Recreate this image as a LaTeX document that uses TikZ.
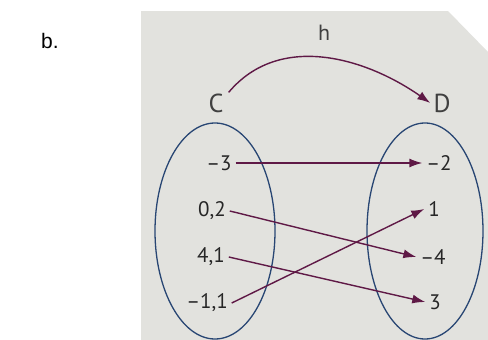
\documentclass[tikz,border=0pt]{standalone}
\usepackage{fontspec}
\setmainfont{Liberation Sans}
\newfontfamily\panelfont{PT Sans}
\usetikzlibrary{arrows.meta}
\definecolor{panelgray}{RGB}{226,226,222}
\definecolor{setblue}{RGB}{40,70,115}
\definecolor{maparrow}{RGB}{95,25,70}
\tikzset{
  elem/.style={inner sep=1pt,outer sep=3pt,font=\panelfont\fontsize{21}{21}\selectfont,text=black!85},
  setname/.style={inner sep=1pt,font=\panelfont\fontsize{26}{26}\selectfont,text=black!75},
  setoval/.style={draw=setblue,line width=1.3pt},
  maps/.style={draw=maparrow,line width=1.4pt,-{Latex[length=13pt,width=9pt]}}
}
\begin{document}
\begin{tikzpicture}[x=1pt,y=-1pt]
        \useasboundingbox (0,0) rectangle (488,340);
        \fill[white] (0,0) rectangle (488,340);
        \fill[panelgray] (141,11) -- (448,11) -- (488,52) -- (488,340) -- (141,340) -- cycle;
        \node[font=\fontsize{21}{21}\selectfont] (part) at (50,41) {b.};
        \draw[setoval] (215,231) ellipse (60 and 108);
        \draw[setoval] (425,231) ellipse (58 and 108);
        \node[setname] (C) at (216,103) {C};
        \node[setname] (D) at (442,103) {D};
        \node[elem] (c1) at (219,163) {–3};
        \node[elem] (c2) at (212,211) {0,2};
        \node[elem] (c3) at (211,257) {4,1};
        \node[elem] (c4) at (207,303) {–1,1};
        \node[elem] (d1) at (439,163) {–2};
        \node[elem] (d2) at (434,209) {1};
        \node[elem] (d3) at (433,257) {–4};
        \node[elem] (d4) at (435,302) {3};
        \draw[maps] ([xshift=4pt]C.north east) to[out=50,in=145] node[above=16pt,setname,font=\panelfont\fontsize{22}{22}\selectfont] (h) {h} ([xshift=-2pt]D.west);
        \draw[maps] (c1.east) -- (d1.west);
        \draw[maps] (c2.east) -- (d3.west);
        \draw[maps] (c3.east) -- (d4.west);
        \draw[maps] (c4.east) -- (d2.west);
\end{tikzpicture}
\end{document}
